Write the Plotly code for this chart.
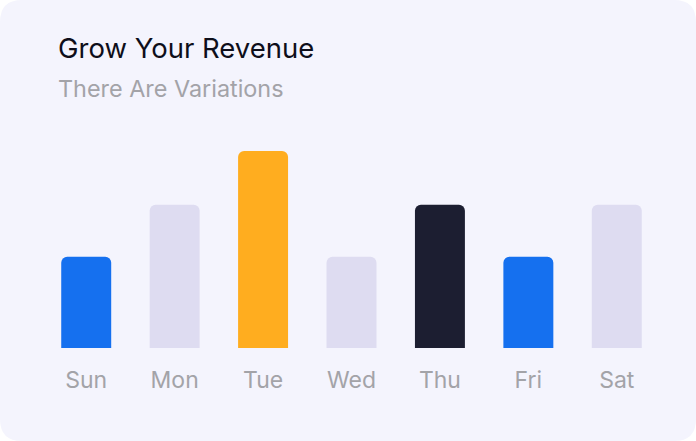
import plotly.graph_objects as go

days = ["Sun", "Mon", "Tue", "Wed", "Thu", "Fri", "Sat"]
revenue = [51, 80, 110, 51, 80, 51, 80]
bar_colors = ["#1570EF", "#DEDCF1", "#FFAD1F", "#DEDCF1", "#1C1E31", "#1570EF", "#DEDCF1"]

W, H = 696, 441
L, R, T, B = 42, 35, 151, 93
pw, ph = W - L - R, H - T - B

def px(x):
    return (x - L) / pw

def py(y):
    return 1 - (y - T) / ph

def card_path(x0, y0, x1, y1, r):
    pts = [
        f"M {px(x0 + r)} {py(y0)}",
        f"L {px(x1 - r)} {py(y0)}",
        f"Q {px(x1)} {py(y0)} {px(x1)} {py(y0 + r)}",
        f"L {px(x1)} {py(y1 - r)}",
        f"Q {px(x1)} {py(y1)} {px(x1 - r)} {py(y1)}",
        f"L {px(x0 + r)} {py(y1)}",
        f"Q {px(x0)} {py(y1)} {px(x0)} {py(y1 - r)}",
        f"L {px(x0)} {py(y0 + r)}",
        f"Q {px(x0)} {py(y0)} {px(x0 + r)} {py(y0)}",
        "Z",
    ]
    return " ".join(pts)

fig = go.Figure(go.Bar(
    x=days, y=revenue, marker=dict(color=bar_colors, line=dict(width=0)),
    hoverinfo="skip",
))

fig.update_layout(
    width=W, height=H,
    margin=dict(l=L, r=R, t=T, b=B, pad=0),
    paper_bgcolor="#FFFFFF", plot_bgcolor="rgba(0,0,0,0)",
    bargap=0.435, barcornerradius=6,
    showlegend=False,
    font=dict(family="Inter", color="#A3A3A8"),
    xaxis=dict(showgrid=False, zeroline=False, showline=False, ticks="",
               tickfont=dict(size=23, color="#A3A3A8"), ticklabelstandoff=16,
               range=[-0.5, 6.5], fixedrange=True),
    yaxis=dict(visible=False, range=[0, 110], fixedrange=True),
    shapes=[dict(type="path", xref="paper", yref="paper",
                 path=card_path(0, 0, W, H, 22),
                 fillcolor="#F4F4FD", line=dict(width=0), layer="below")],
    annotations=[
        dict(text="Grow Your Revenue", xref="paper", yref="paper",
             x=px(56), y=py(48.5), xanchor="left", yanchor="middle", showarrow=False,
             font=dict(family="Inter", size=27.5, color="#0E0E1A")),
        dict(text="There Are Variations", xref="paper", yref="paper",
             x=px(56), y=py(89), xanchor="left", yanchor="middle", showarrow=False,
             font=dict(family="Inter", size=23.4, color="#A3A3A8")),
    ],
)

fig.write_html("out.html", config={"displayModeBar": False},
               post_script="document.body.style.margin='0';document.body.style.overflow='hidden';")
